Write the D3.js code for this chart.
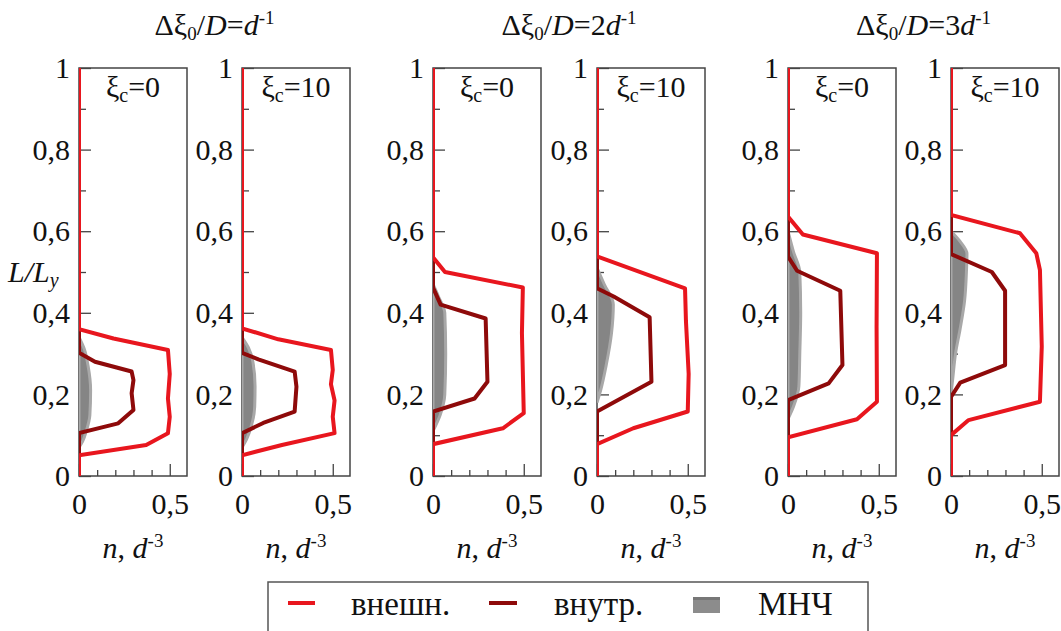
<!DOCTYPE html>
<html>
<head>
<meta charset="utf-8">
<script src="https://cdn.jsdelivr.net/npm/d3@7"></script>
<style>
  body { margin: 0; background: #fff; }
  svg text { font-family: "Times New Roman", "Liberation Serif", Tinos, "DejaVu Serif", serif; fill: #111; }
</style>
</head>
<body>
<div id="chart"></div>
<script>
// group titles and panel labels
var groupTitles = ["", "2", "3"];           // coefficient before d^-1
var panelXi = ["0", "10", "0", "10", "0", "10"];
var yMajor = [0, 0.2, 0.4, 0.6, 0.8, 1];
var yMinor = [0.1, 0.3, 0.5, 0.7, 0.9];
var xMajor = [0, 0.5];
var xMinor = [0.1, 0.2, 0.3, 0.4];

// profiles as [n, L/Ly]
var outer1a = [[0,0],[0,0.051],[0.37,0.076],[0.49,0.105],[0.5,0.145],[0.49,0.19],[0.5,0.25],[0.49,0.309],[0.19,0.337],[0,0.36],[0,1]];
var inner1a = [[0,0],[0,0.105],[0.216,0.129],[0.3,0.162],[0.29,0.203],[0.3,0.235],[0.29,0.256],[0.088,0.28],[0,0.302],[0,1]];
var mnch1a  = [[0,0.07],[0.02,0.085],[0.04,0.11],[0.06,0.15],[0.064,0.21],[0.05,0.27],[0.03,0.31],[0,0.34]];

var outer1b = [[0,0],[0,0.051],[0.22,0.076],[0.51,0.105],[0.5,0.145],[0.51,0.185],[0.49,0.225],[0.5,0.26],[0.49,0.309],[0.2,0.335],[0,0.362],[0,1]];
var inner1b = [[0,0],[0,0.105],[0.117,0.13],[0.29,0.158],[0.3,0.219],[0.29,0.256],[0.09,0.286],[0,0.302],[0,1]];
var mnch1b  = [[0,0.07],[0.025,0.09],[0.05,0.12],[0.07,0.17],[0.072,0.22],[0.06,0.28],[0.035,0.315],[0,0.34]];

var outer2a = [[0,0],[0,0.078],[0.385,0.117],[0.5,0.154],[0.49,0.35],[0.495,0.462],[0.066,0.5],[0,0.536],[0,1]];
var inner2a = [[0,0],[0,0.158],[0.229,0.19],[0.3,0.231],[0.29,0.386],[0.042,0.42],[0,0.462],[0,1]];
var mnch2a  = [[0,0.11],[0.04,0.15],[0.065,0.2],[0.07,0.3],[0.065,0.4],[0.03,0.44],[0,0.47]];

var outer2b = [[0,0],[0,0.078],[0.2,0.117],[0.5,0.158],[0.505,0.25],[0.49,0.38],[0.485,0.46],[0,0.538],[0,1]];
var inner2b = [[0,0],[0,0.158],[0.3,0.231],[0.29,0.389],[0.092,0.44],[0,0.46],[0,1]];
var mnch2b  = [[0,0.18],[0.02,0.21],[0.05,0.27],[0.08,0.35],[0.09,0.42],[0.04,0.47],[0,0.51]];

var outer3a = [[0,0],[0,0.095],[0.38,0.139],[0.49,0.182],[0.488,0.366],[0.49,0.546],[0.082,0.592],[0,0.636],[0,1]];
var inner3a = [[0,0],[0,0.186],[0.224,0.227],[0.3,0.272],[0.288,0.454],[0.05,0.503],[0,0.538],[0,1]];
var mnch3a  = [[0,0.14],[0.03,0.17],[0.06,0.22],[0.065,0.3],[0.07,0.4],[0.065,0.5],[0.03,0.55],[0,0.6]];

var outer3b = [[0,0],[0,0.1],[0.097,0.137],[0.49,0.182],[0.5,0.317],[0.49,0.505],[0.47,0.546],[0.38,0.595],[0,0.64],[0,1]];
var inner3b = [[0,0],[0,0.194],[0.051,0.229],[0.298,0.272],[0.298,0.454],[0.225,0.5],[0,0.544],[0,1]];
var mnch3b  = [[0,0.2],[0.01,0.24],[0.025,0.3],[0.05,0.36],[0.075,0.43],[0.085,0.5],[0.088,0.545],[0.05,0.575],[0,0.6]];

var outerSets = [outer1a, outer1b, outer2a, outer2b, outer3a, outer3b];
var innerSets = [inner1a, inner1b, inner2a, inner2b, inner3a, inner3b];
var mnchSets  = [mnch1a, mnch1b, mnch2a, mnch2b, mnch3a, mnch3b];

var legendNames = ["внешн.", "внутр.", "МНЧ"];

var W = 1061, H = 631;
var svg = d3.select("#chart").append("svg").attr("width", W).attr("height", H);

var panelLeft = [79, 242, 433, 597, 788, 951];
var pw = 108, plotTop = 68, plotBottom = 476;
var red = "#e8161e", darkRed = "#8e0a0a";

var y = d3.scaleLinear().domain([0, 1]).range([plotBottom, plotTop]);
var x = d3.scaleLinear().domain([0, 0.595]).range([0, pw]);
var fmt = function (d) { return String(d).replace(".", ","); };

var line = d3.line().x(function (d) { return x(d[0]); }).y(function (d) { return y(d[1]); });
var area = d3.area().x0(x(0)).x1(function (d) { return x(d[0]); }).y(function (d) { return y(d[1]); }).curve(d3.curveMonotoneY);

panelLeft.forEach(function (px, i) {
    var g = svg.append("g").attr("transform", "translate(" + px + ",0)");

    g.append("clipPath").attr("id", "clip" + i)
        .append("rect").attr("x", 0).attr("y", plotTop).attr("width", pw).attr("height", plotBottom - plotTop);

    // frame
    g.append("rect").attr("x", 0).attr("y", plotTop).attr("width", pw).attr("height", plotBottom - plotTop)
        .attr("fill", "none").attr("stroke", "#444").attr("stroke-width", 1.5);

    // ticks point inward
    var ya = g.append("g").call(d3.axisLeft(y).tickValues(yMajor).tickSize(-12).tickPadding(9).tickFormat(fmt));
    var ym = g.append("g").call(d3.axisLeft(y).tickValues(yMinor).tickSize(-7).tickFormat(""));
    var xa = g.append("g").attr("transform", "translate(0," + plotBottom + ")")
        .call(d3.axisBottom(x).tickValues(xMajor).tickSize(-12).tickPadding(17).tickFormat(fmt));
    var xm = g.append("g").attr("transform", "translate(0," + plotBottom + ")")
        .call(d3.axisBottom(x).tickValues(xMinor).tickSize(-6).tickFormat(""));
    [ya, ym, xa, xm].forEach(function (a) {
        a.attr("font-family", null).attr("font-size", null);
        a.select(".domain").remove();
        a.selectAll("line").attr("stroke", "#444").attr("stroke-width", 1.3);
        a.selectAll("text").style("font-size", "30px").attr("fill", "#111");
    });

    var plot = g.append("g").attr("clip-path", "url(#clip" + i + ")");
    plot.append("path").datum(mnchSets[i]).attr("d", area)
        .attr("fill", "#858585").attr("stroke", "#a8a8a8").attr("stroke-width", 3);
    plot.append("path").datum(innerSets[i]).attr("d", line)
        .attr("fill", "none").attr("stroke", darkRed).attr("stroke-width", 4).attr("stroke-linejoin", "round");
    plot.append("path").datum(outerSets[i]).attr("d", line)
        .attr("fill", "none").attr("stroke", red).attr("stroke-width", 4).attr("stroke-linejoin", "round");

    // ξc label
    var t = g.append("text").attr("x", pw / 2).attr("y", 97).attr("text-anchor", "middle").style("font-size", "30px");
    t.append("tspan").text("ξ");
    t.append("tspan").attr("dy", 5).style("font-size", "20px").text("c");
    t.append("tspan").attr("dy", -5).text("=" + panelXi[i]);

    // x axis label
    var xl = g.append("text").attr("x", pw / 2).attr("y", 558).attr("text-anchor", "middle").style("font-size", "30px");
    xl.append("tspan").style("font-style", "italic").text("n");
    xl.append("tspan").text(", ");
    xl.append("tspan").style("font-style", "italic").text("d");
    xl.append("tspan").attr("dy", -11).style("font-size", "19px").text("-3");
});

// group titles
groupTitles.forEach(function (c, k) {
    var cx = (panelLeft[2 * k] + panelLeft[2 * k + 1] + pw) / 2;
    var t = svg.append("text").attr("x", cx).attr("y", 35).attr("text-anchor", "middle").style("font-size", "30px");
    t.append("tspan").text("Δξ");
    t.append("tspan").attr("dy", 5).style("font-size", "19px").text("0");
    t.append("tspan").attr("dy", -5).text("/");
    t.append("tspan").style("font-style", "italic").text("D");
    t.append("tspan").text("=" + c);
    t.append("tspan").style("font-style", "italic").text("d");
    t.append("tspan").attr("dy", -11).style("font-size", "19px").text("-1");
});

// y axis label
var yl = svg.append("text").attr("x", 8).attr("y", 282).style("font-size", "30px").style("font-style", "italic");
yl.append("tspan").text("L/L");
yl.append("tspan").attr("dy", 5).style("font-size", "20px").text("y");

// legend
var lg = svg.append("g");
lg.append("rect").attr("x", 268).attr("y", 582).attr("width", 600).attr("height", 70)
    .attr("fill", "#fff").attr("stroke", "#555").attr("stroke-width", 1.5);
lg.append("line").attr("x1", 288).attr("x2", 315).attr("y1", 603).attr("y2", 603).attr("stroke", red).attr("stroke-width", 4);
lg.append("text").attr("x", 351).attr("y", 615).style("font-size", "33px").text(legendNames[0]);
lg.append("line").attr("x1", 489).attr("x2", 517).attr("y1", 603).attr("y2", 603).attr("stroke", darkRed).attr("stroke-width", 4);
lg.append("text").attr("x", 554).attr("y", 615).style("font-size", "33px").text(legendNames[1]);
lg.append("rect").attr("x", 693).attr("y", 597).attr("width", 27).attr("height", 16).attr("fill", "#8c8c8c");
lg.append("rect").attr("x", 693).attr("y", 597).attr("width", 27).attr("height", 3).attr("fill", "#777");
lg.append("text").attr("x", 758).attr("y", 615).style("font-size", "33px").text(legendNames[2]);
</script>
</body>
</html>
